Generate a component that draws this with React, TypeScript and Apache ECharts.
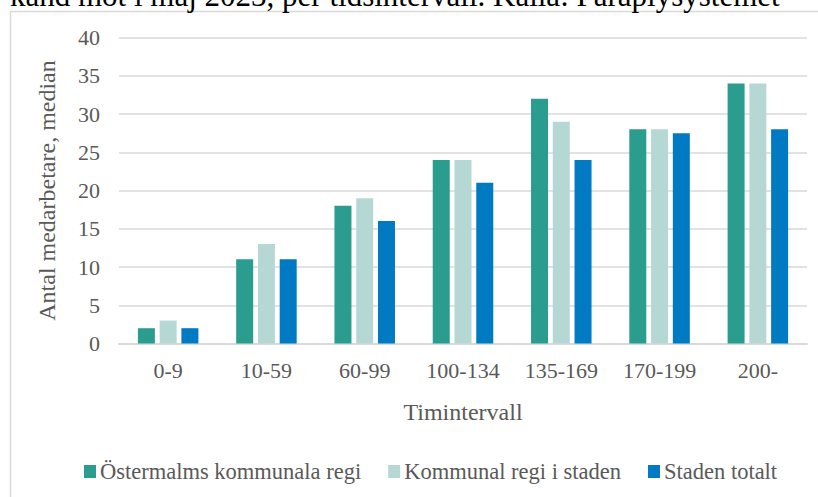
import React, { useEffect, useRef } from "react";
import * as echarts from "echarts";

const categories = ["0-9", "10-59", "60-99", "100-134", "135-169", "170-199", "200-"];
const ostermalm = [2, 11, 18, 24, 32, 28, 34];
const kommunal = [3, 13, 19, 24, 29, 28, 34];
const staden = [2, 11, 16, 21, 24, 27.5, 28];
const seriesNames = ["Östermalms kommunala regi", "Kommunal regi i staden", "Staden totalt"];
const topText = "kand mot i maj 2023, per tidsintervall. Källa: Paraplysystemet";

const FONT = "Liberation Serif";
const colors = ["#2A9D8F", "#B6D8D5", "#007AC2"];
const GREY = "#595959";

export default function App() {
  const ref = useRef<HTMLDivElement>(null);
  useEffect(() => {
    if (!ref.current) return;
    const chart = echarts.init(ref.current, undefined, { renderer: "svg" });
    const mk = (name: string, data: number[], color: string) => ({
      name,
      type: "bar" as const,
      data,
      barWidth: 17,
      barGap: "28%",
      itemStyle: { color },
    });
    chart.setOption({
      animation: false,
      backgroundColor: "#fff",
      textStyle: { fontFamily: FONT },
      grid: { left: 119, right: 11, top: 37.5, bottom: 153.5 },
      graphic: [
        {
          type: "rect",
          shape: { x: 10.5, y: 11.5, width: 900, height: 600 },
          style: { fill: "none", stroke: "#D9D9D9", lineWidth: 1.5 },
          z: -1,
        },
        {
          type: "text",
          x: 10,
          y: -5,
          style: {
            text: topText,
            fontFamily: FONT,
            fontSize: 31,
            fill: "#000",
            verticalAlign: "middle",
          },
        },
      ],
      legend: {
        data: seriesNames,
        left: 79,
        top: 455,
        itemWidth: 12,
        itemHeight: 13,
        itemGap: 27,
        icon: "rect",
        textStyle: { fontFamily: FONT, fontSize: 22.5, color: GREY, padding: [0, 0, 0, -1] },
      },
      xAxis: {
        type: "category",
        data: categories,
        name: "Timintervall",
        nameLocation: "middle",
        nameGap: 56,
        nameTextStyle: { fontFamily: FONT, fontSize: 24, color: GREY },
        axisLine: { lineStyle: { color: "#D9D9D9", width: 2 } },
        axisTick: { show: false },
        axisLabel: { fontFamily: FONT, fontSize: 22, color: GREY, margin: 16 },
      },
      yAxis: {
        type: "value",
        min: 0,
        max: 40,
        interval: 5,
        name: "Antal medarbetare, median",
        nameLocation: "middle",
        nameGap: 60,
        nameTextStyle: { fontFamily: FONT, fontSize: 24, color: GREY },
        axisLine: { show: false },
        axisTick: { show: false },
        axisLabel: { fontFamily: FONT, fontSize: 22, color: GREY, margin: 19 },
        splitLine: { lineStyle: { color: "#D9D9D9", width: 1.5 } },
      },
      series: [
        mk(seriesNames[0], ostermalm, colors[0]),
        mk(seriesNames[1], kommunal, colors[1]),
        mk(seriesNames[2], staden, colors[2]),
      ],
    });
    return () => chart.dispose();
  }, []);
  return (
    <div
      ref={ref}
      style={{ position: "absolute", left: 0, top: 0, width: 818, height: 497 }}
    />
  );
}
